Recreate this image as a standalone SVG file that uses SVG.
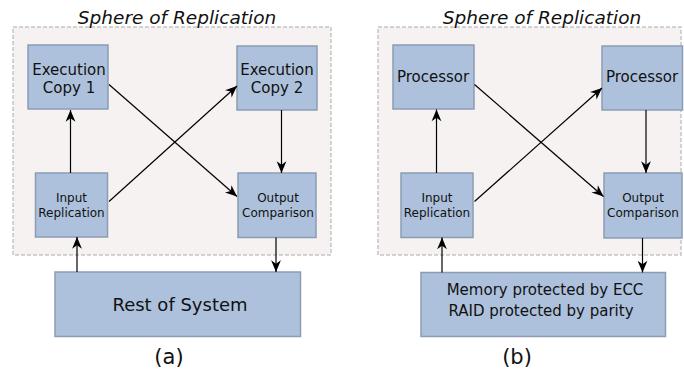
<svg xmlns="http://www.w3.org/2000/svg" width="684" height="375" viewBox="0 0 684 375">
<style>
.sphere{fill:#f6f2f2;stroke:#c6c6c6;stroke-width:1.5;stroke-dasharray:4 2}
.node{fill:#adc1dc;stroke:#8c9db3;stroke-width:1.5}
.t{font-family:"DejaVu Sans",sans-serif;fill:#111;text-anchor:middle}
.title{font-family:"DejaVu Sans",sans-serif;font-style:italic;font-size:18.5px;fill:#111;text-anchor:middle}
.big{font-size:15px}
.small{font-size:12px}
.c{stroke:#000;stroke-width:1.2;fill:none;marker-end:url(#ah)}
</style>
<defs>
<marker id="ah" markerUnits="userSpaceOnUse" markerWidth="14" markerHeight="12" viewBox="-11 -5 12 10" refX="0" refY="0" orient="auto">
<path d="M0,0 L-10,-4.2 L-7,0 L-10,4.2 Z" fill="#000"/>
</marker>
</defs>
<rect class="sphere" x="13" y="27" width="318" height="228"/>
<rect class="sphere" x="378" y="27" width="303" height="228"/>
<text class="title" x="177" y="24">Sphere of Replication</text>
<text class="title" x="542" y="24">Sphere of Replication</text>
<g id="exec1"><rect class="node" x="28" y="45" width="80" height="64"/><text class="t big" x="69" y="75">Execution</text><text class="t big" x="69" y="93">Copy 1</text></g>
<g id="exec2"><rect class="node" x="237" y="46" width="80" height="64"/><text class="t big" x="277" y="75">Execution</text><text class="t big" x="277" y="93">Copy 2</text></g>
<g id="inrepA"><rect class="node" x="35.5" y="173" width="72" height="64"/><text class="t small" x="71.5" y="202">Input</text><text class="t small" x="71.5" y="217">Replication</text></g>
<g id="outcmpA"><rect class="node" x="238" y="173" width="78" height="64.5"/><text class="t small" x="278" y="202">Output</text><text class="t small" x="278" y="217">Comparison</text></g>
<g id="rest"><rect class="node" x="55" y="272" width="245.5" height="64.5"/><text class="t" style="font-size:18px" x="180" y="311">Rest of System</text></g>
<g id="proc1"><rect class="node" x="393" y="45" width="81" height="64"/><text class="t big" x="433" y="82">Processor</text></g>
<g id="proc2"><rect class="node" x="602" y="46" width="80.5" height="64"/><text class="t big" x="642" y="82">Processor</text></g>
<g id="inrepB"><rect class="node" x="401" y="173" width="72" height="64.5"/><text class="t small" x="437" y="202">Input</text><text class="t small" x="437" y="217">Replication</text></g>
<g id="outcmpB"><rect class="node" x="604" y="173" width="78" height="65"/><text class="t small" x="643" y="202">Output</text><text class="t small" x="643" y="217">Comparison</text></g>
<g id="mem"><rect class="node" x="421" y="272.5" width="244.5" height="64"/><text class="t" style="font-size:15px" x="545" y="295">Memory protected by ECC</text><text class="t" style="font-size:15px" x="541" y="316">RAID protected by parity</text></g>
<text class="t" style="font-size:21px" x="169" y="364">(a)</text>
<text class="t" style="font-size:21px" x="517" y="364">(b)</text>
<g id="connectors">
<path class="c" d="M70.5,173 V110"/>
<path class="c" d="M109,84.5 L237,196.5"/>
<path class="c" d="M109,201.5 L237,86"/>
<path class="c" d="M281.5,110 V173"/>
<path class="c" d="M276,237.5 V272"/>
<path class="c" d="M77,272 V237"/>
<path class="c" d="M436.5,173 V109.5"/>
<path class="c" d="M474.5,84.5 L603.5,196.5"/>
<path class="c" d="M474.5,201.5 L602,88"/>
<path class="c" d="M646,110 V173"/>
<path class="c" d="M642.5,238 V272.5"/>
<path class="c" d="M442,272.5 V237.5"/>
</g>
</svg>
